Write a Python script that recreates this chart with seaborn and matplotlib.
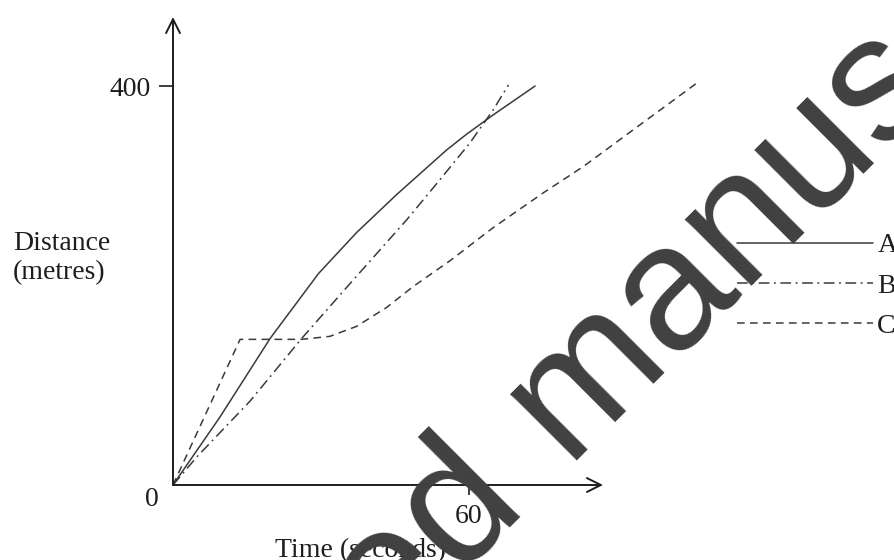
import numpy as np
import pandas as pd
import matplotlib
matplotlib.use("Agg")
import matplotlib.pyplot as plt
import seaborn as sns

# values (time in s, distance in m)
A_t = [0, 9.5, 19.7, 29.5, 37.2, 45.3, 48.7, 55.5, 59.6, 64.9, 73.4]
A_d = [0, 68, 147, 212, 253, 291, 306, 336, 352, 371, 400]
B_t = [0, 4.8, 15.6, 26.1, 35.9, 47.4, 54.1, 60.2, 64.9, 68.0]
B_d = [0, 28, 84, 147, 202, 266, 306, 343, 376, 401]
C_t = [0, 13.6, 26, 31.8, 37.2, 43.3, 48.7, 56.2, 64.9, 75.1, 83.1, 106.2]
C_d = [0, 146, 146, 149, 159, 178, 199, 225, 258, 293, 319, 403]
names = ["A", "B", "C"]
xticks = [60]
yticks = [400]

sns.set_style("white")
plt.rcParams["font.family"] = ["Liberation Serif", "DejaVu Serif"]

ink = "#1e1e1e"
curve = "#3a3a3a"

fig = plt.figure(figsize=(8.94, 5.6), dpi=100)
ax = fig.add_axes([173 / 894, 75 / 560, 430 / 894, 468 / 560])
ax.set_xlim(0, 430 / 4.933)
ax.set_ylim(0, 468 / 0.9975)

styles = {"A": "-", "B": (0, (7, 3, 1.2, 3)), "C": (0, (5, 3.5))}
series = {"A": (A_t, A_d), "B": (B_t, B_d), "C": (C_t, C_d)}
for nm in names:
    t, d = series[nm]
    df = pd.DataFrame({"t": t, "d": d})
    sns.lineplot(data=df, x="t", y="d", ax=ax, color=curve, lw=1.1,
                 linestyle=styles[nm], label=nm, clip_on=False, sort=False)

for s in ax.spines.values():
    s.set_visible(False)

arr = dict(arrowstyle="->,head_length=1.0,head_width=0.5", lw=1.4, color=ink,
           shrinkA=0, shrinkB=0, mutation_scale=10)
ax.annotate("", xy=(1, 0), xytext=(0, 0), xycoords="axes fraction", arrowprops=arr)
ax.annotate("", xy=(0, 1), xytext=(0, 0), xycoords="axes fraction", arrowprops=arr)

ax.set_xticks(xticks)
ax.set_yticks(yticks)
ax.set_xticklabels([str(v) for v in xticks])
ax.set_yticklabels([str(v) for v in yticks])
ax.tick_params(axis="x", bottom=True, direction="out", length=7, width=1.2,
               color=ink, labelsize=20, labelcolor=ink, pad=7)
ax.tick_params(axis="y", left=True, direction="out", length=10, width=1.2,
               color=ink, labelsize=20, labelcolor=ink, pad=6)
ax.set_xlabel("")
ax.set_ylabel("")
ax.annotate("0", xy=(0, 0), xytext=(-15, -10.5), textcoords="offset points",
            ha="center", va="center", fontsize=20, color=ink)

fig.text(13 / 894, 1 - 279 / 560, "Distance\n(metres)", ha="left", va="baseline",
         fontsize=20, color=ink, linespacing=1.2)
fig.text(275 / 894, 1 - 557 / 560, "Time (seconds)", ha="left", va="baseline",
         fontsize=20, color=ink)

ax.legend(loc="upper left", bbox_to_anchor=(737 / 894, 1 - 233 / 560),
          bbox_transform=fig.transFigure, frameon=False, fontsize=20,
          handlelength=4.9, handletextpad=0.15, labelspacing=0.53,
          borderpad=0, borderaxespad=0, labelcolor=ink)

# watermark over the figure
wm = dict(rotation=45, rotation_mode="anchor", va="baseline", fontsize=128,
          color="#404040", family="Liberation Sans", zorder=10)
fig.text(530 / 894, 1 - 508 / 560, "Accepted", ha="right", **wm)
fig.text(534 / 894, 1 - 504 / 560, " manuscript", ha="left", **wm)

fig.savefig("out.png", dpi=100)
